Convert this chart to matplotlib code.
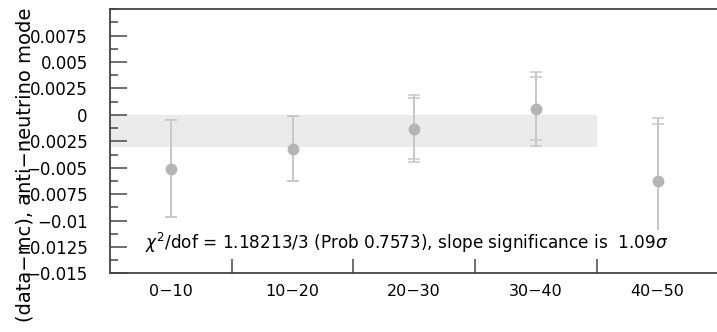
import numpy as np
import matplotlib
matplotlib.use("Agg")
import matplotlib.pyplot as plt
from matplotlib.ticker import MultipleLocator, FixedLocator, FixedFormatter, NullFormatter

# bins and per-bin data-mc difference
bins = ["0-10", "10-20", "20-30", "30-40", "40-50"]
diff = [-0.0051, -0.0032, -0.0013, 0.0006, -0.0063]
err_stat = [0.0046, 0.0031, 0.0029, 0.0030, 0.0054]
err_tot = [0.0046, 0.0031, 0.0032, 0.0035, 0.0060]

# systematic band (covers first four bins)
band_lo, band_hi = -0.003, 0.0
band_nbins = 4

yticks = [-0.015, -0.0125, -0.01, -0.0075, -0.005, -0.0025, 0, 0.0025, 0.005, 0.0075]
ytick_labels = ["-0.015", "-0.0125", "-0.01", "-0.0075", "-0.005", "-0.0025",
                "0", "0.0025", "0.005", "0.0075"]

stat_text = r"$\chi^2$/dof = 1.18213/3 (Prob 0.7573), slope significance is  1.09$\sigma$"

plt.rcParams["mathtext.fontset"] = "dejavusans"

fig = plt.figure(figsize=(7.17, 3.32), dpi=100)
ax = fig.add_axes([110 / 717, 58.7 / 332, 608.5 / 717, 264 / 332])

x = np.arange(len(bins)) + 0.5

ax.fill_between([0, band_nbins], band_lo, band_hi, color="#ebebeb", lw=0, zorder=1)

ax.errorbar(x, diff, yerr=err_tot, fmt="none", ecolor="#c8c8c8", elinewidth=1.4,
            capsize=4, capthick=1.1, zorder=2)
ax.errorbar(x, diff, yerr=err_stat, fmt="o", color="#b5b5b5", ecolor="#c8c8c8",
            elinewidth=1.4, capsize=4, capthick=1.1, markersize=7.5, zorder=3)

ax.set_xlim(0, len(bins))
ax.set_ylim(-0.015, 0.01)

# y axis: major every 0.0025, minor halfway, ticks pointing inward
ax.yaxis.set_major_locator(FixedLocator(yticks))
ax.yaxis.set_major_formatter(FixedFormatter([t.replace("-", "\u2212") for t in ytick_labels]))
ax.yaxis.set_minor_locator(MultipleLocator(0.00125))
ax.tick_params(axis="y", which="major", direction="in", length=12, width=1.2,
               color="#555555", labelsize=12, pad=16)
ax.tick_params(axis="y", which="minor", direction="in", length=6, width=1.2,
               color="#555555")

# x axis: ticks on bin edges, labels at bin centres
ax.xaxis.set_major_locator(FixedLocator(np.arange(1, len(bins))))
ax.xaxis.set_major_formatter(NullFormatter())
ax.xaxis.set_minor_locator(FixedLocator(x))
ax.xaxis.set_minor_formatter(FixedFormatter([b.replace("-", "\u2212") for b in bins]))
ax.tick_params(axis="x", which="major", direction="in", length=10, width=1.2,
               color="#555555")
ax.tick_params(axis="x", which="minor", length=0, labelsize=11.5, pad=8)

for side in ["left", "bottom", "top", "right"]:
    ax.spines[side].set_color("#444444")
    ax.spines[side].set_linewidth(1.3)

ax.text(0.29, -0.0121, stat_text, fontsize=12.2, va="center", ha="left",
        bbox=dict(facecolor="white", edgecolor="none", pad=0.5), zorder=5)

fig.text(25 / 717, 1 - 165 / 332, "(data\u2212mc), anti\u2212neutrino mode",
         rotation=90, fontsize=14, ha="center", va="center")

fig.savefig("out.png", dpi=100)
